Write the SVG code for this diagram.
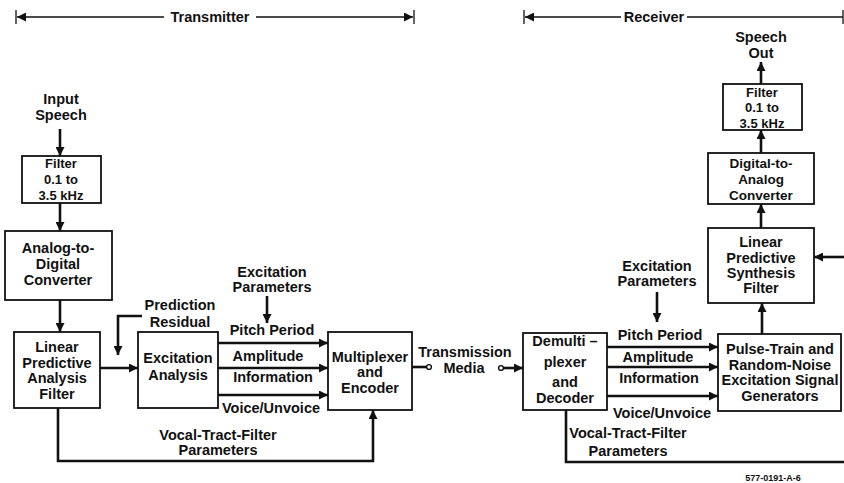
<svg xmlns="http://www.w3.org/2000/svg" width="844" height="483" viewBox="0 0 844 483">
<style>
.t{font-family:"Liberation Sans",Arial,sans-serif;font-weight:bold;font-size:14.5px;fill:#111;text-anchor:middle}
.s{font-size:13px}
.m{font-size:13.5px}
.box{fill:#fff;stroke:#111;stroke-width:1.8}
.w{fill:none;stroke:#111;stroke-width:2.6}
.d{fill:none;stroke:#111;stroke-width:1.3}
.c{fill:#fff;stroke:#111;stroke-width:1.4}
</style>
<defs>
<marker id="ah" viewBox="0 0 10 10" refX="10" refY="5" markerWidth="9" markerHeight="9" markerUnits="userSpaceOnUse" orient="auto">
<path d="M0,0 L10,5 L0,10 z" fill="#111"/>
</marker>
<marker id="dh" viewBox="0 0 10 10" refX="10" refY="5" markerWidth="9" markerHeight="9" markerUnits="userSpaceOnUse" orient="auto">
<path d="M0,0 L10,5 L0,10 z" fill="#111"/>
</marker>
</defs>

<g id="transmitter-span">
<line class="d" x1="16" y1="10" x2="16" y2="24"/>
<line class="d" x1="164" y1="17" x2="17" y2="17" marker-end="url(#dh)"/>
<line class="d" x1="256" y1="17" x2="413" y2="17" marker-end="url(#dh)"/>
<line class="d" x1="414" y1="10" x2="414" y2="24"/>
<text class="t" x="210" y="22">Transmitter</text>
</g>

<g id="receiver-span">
<line class="d" x1="524" y1="10" x2="524" y2="24"/>
<line class="d" x1="621" y1="17" x2="525" y2="17" marker-end="url(#dh)"/>
<line class="d" x1="687" y1="17" x2="843" y2="17"/>
<line class="d" x1="843" y1="10" x2="843" y2="24"/>
<text class="t" x="654" y="22">Receiver</text>
</g>

<g id="input-speech">
<text class="t" x="61" y="104">Input</text>
<text class="t" x="61" y="120">Speech</text>
</g>

<g id="tx-filter">
<rect class="box" x="22" y="156" width="79" height="47"/>
<text class="t s" x="61" y="168">Filter</text>
<text class="t s" x="61" y="184">0.1 to</text>
<text class="t s" x="61" y="200">3.5 kHz</text>
</g>

<g id="adc">
<rect class="box" x="5" y="231" width="107" height="69"/>
<text class="t" x="58" y="253">Analog-to-</text>
<text class="t" x="58" y="269">Digital</text>
<text class="t" x="58" y="285">Converter</text>
</g>

<g id="lpa-filter">
<rect class="box" x="14" y="332" width="86" height="76"/>
<text class="t" x="57" y="352">Linear</text>
<text class="t" x="57" y="368">Predictive</text>
<text class="t" x="57" y="383">Analysis</text>
<text class="t" x="57" y="399">Filter</text>
</g>

<g id="excitation-analysis">
<rect class="box" x="138" y="332" width="80" height="76"/>
<text class="t" x="178" y="363">Excitation</text>
<text class="t" x="178" y="380">Analysis</text>
</g>

<g id="multiplexer">
<rect class="box" x="328" y="332" width="84" height="78"/>
<text class="t" x="370" y="362">Multiplexer</text>
<text class="t" x="370" y="377">and</text>
<text class="t" x="370" y="393">Encoder</text>
</g>

<g id="demultiplexer">
<rect class="box" x="523" y="333" width="84" height="77"/>
<text class="t" x="565" y="346">Demulti –</text>
<text class="t" x="565" y="367">plexer</text>
<text class="t" x="565" y="387">and</text>
<text class="t" x="565" y="403">Decoder</text>
</g>

<g id="pulse-generators">
<rect class="box" x="718" y="334" width="123" height="77"/>
<text class="t" x="780" y="354">Pulse-Train and</text>
<text class="t" x="780" y="370">Random-Noise</text>
<text class="t" x="780" y="385">Excitation Signal</text>
<text class="t" x="780" y="401">Generators</text>
</g>

<g id="lps-filter">
<rect class="box" x="708" y="228" width="106" height="75"/>
<text class="t" x="761" y="247">Linear</text>
<text class="t" x="761" y="263">Predictive</text>
<text class="t" x="761" y="278">Synthesis</text>
<text class="t" x="761" y="293">Filter</text>
</g>

<g id="dac">
<rect class="box" x="708" y="153" width="106" height="51"/>
<text class="t m" x="761" y="168">Digital-to-</text>
<text class="t m" x="761" y="184">Analog</text>
<text class="t m" x="761" y="200">Converter</text>
</g>

<g id="rx-filter">
<rect class="box" x="723" y="84" width="79" height="46"/>
<text class="t s" x="762" y="97">Filter</text>
<text class="t s" x="762" y="112">0.1 to</text>
<text class="t s" x="762" y="128">3.5 kHz</text>
</g>

<g id="speech-out">
<text class="t" x="761" y="42">Speech</text>
<text class="t" x="761" y="58">Out</text>
</g>

<g id="connectors">
<line class="w" x1="60" y1="129" x2="60" y2="156" marker-end="url(#ah)"/>
<line class="w" x1="60" y1="203" x2="60" y2="231" marker-end="url(#ah)"/>
<line class="w" x1="60" y1="300" x2="60" y2="332" marker-end="url(#ah)"/>
<line class="w" x1="100" y1="368" x2="138" y2="368" marker-end="url(#ah)"/>
<polyline class="w" points="142,316 118,316 118,355" marker-end="url(#ah)"/>
<line class="w" x1="267" y1="296" x2="267" y2="323" marker-end="url(#ah)"/>
<line class="w" x1="218" y1="343" x2="328" y2="343" marker-end="url(#ah)"/>
<line class="w" x1="218" y1="368" x2="328" y2="368" marker-end="url(#ah)"/>
<line class="w" x1="218" y1="395" x2="328" y2="395" marker-end="url(#ah)"/>
<polyline class="w" points="58,408 58,461 373,461 373,410" marker-end="url(#ah)"/>
<line class="w" x1="412" y1="367" x2="427" y2="367"/>
<circle class="c" cx="429" cy="367" r="2.4"/>
<line class="w" x1="503" y1="368" x2="523" y2="368" marker-end="url(#ah)"/>
<circle class="c" cx="501" cy="368" r="2.4"/>
<line class="w" x1="657" y1="292" x2="657" y2="322" marker-end="url(#ah)"/>
<line class="w" x1="607" y1="347" x2="718" y2="347" marker-end="url(#ah)"/>
<line class="w" x1="607" y1="367" x2="718" y2="367" marker-end="url(#ah)"/>
<line class="w" x1="607" y1="396" x2="718" y2="396" marker-end="url(#ah)"/>
<polyline class="w" points="566,410 566,462 844,462"/>
<line class="w" x1="762" y1="334" x2="762" y2="303" marker-end="url(#ah)"/>
<line class="w" x1="844" y1="257" x2="814" y2="257" marker-end="url(#ah)"/>
<line class="w" x1="761" y1="228" x2="761" y2="204" marker-end="url(#ah)"/>
<line class="w" x1="761" y1="153" x2="761" y2="130" marker-end="url(#ah)"/>
<line class="w" x1="761" y1="84" x2="761" y2="62" marker-end="url(#ah)"/>
</g>

<g id="labels">
<text class="t" x="180" y="310">Prediction</text>
<text class="t" x="180" y="327">Residual</text>
<text class="t" x="272" y="277">Excitation</text>
<text class="t" x="272" y="292">Parameters</text>
<text class="t" x="272" y="335">Pitch Period</text>
<text class="t" x="268" y="361">Amplitude</text>
<text class="t" x="273" y="382">Information</text>
<text class="t" x="271" y="413">Voice/Unvoice</text>
<text class="t" x="218" y="440">Vocal-Tract-Filter</text>
<text class="t" x="218" y="455">Parameters</text>
<text class="t" x="465" y="357">Transmission</text>
<text class="t" x="464" y="373">Media</text>
<text class="t" x="657" y="271">Excitation</text>
<text class="t" x="657" y="286">Parameters</text>
<text class="t" x="660" y="340">Pitch Period</text>
<text class="t" x="658" y="362">Amplitude</text>
<text class="t" x="659" y="383">Information</text>
<text class="t" x="662" y="418">Voice/Unvoice</text>
<text class="t" x="628" y="438">Vocal-Tract-Filter</text>
<text class="t" x="628" y="456">Parameters</text>
<text class="t" style="font-size:9px" x="773" y="481">577-0191-A-6</text>
</g>
</svg>
